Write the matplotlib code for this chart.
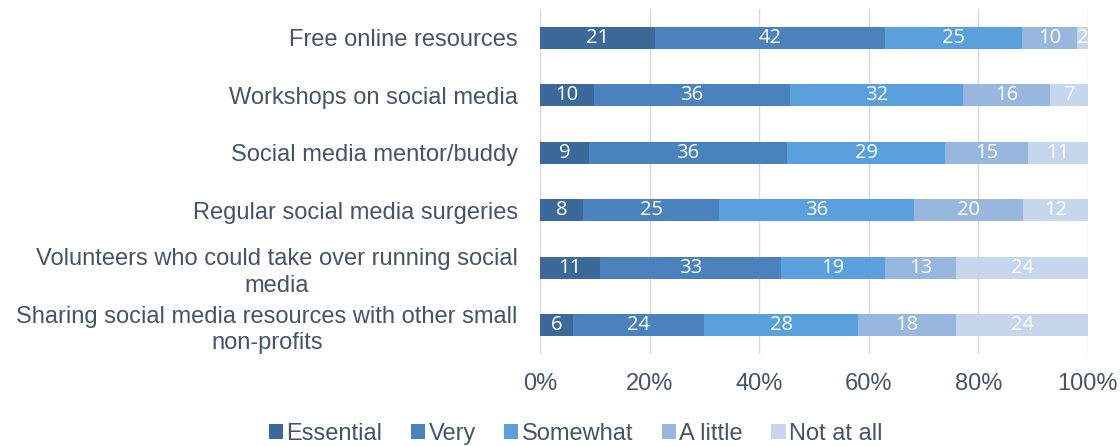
import matplotlib
matplotlib.use("Agg")
import matplotlib.pyplot as plt
import numpy as np

categories = [
    "Free online resources",
    "Workshops on social media",
    "Social media mentor/buddy",
    "Regular social media surgeries",
    "Volunteers who could take over running social\nmedia",
    "Sharing social media resources with other small\nnon-profits",
]
series_names = ["Essential", "Very", "Somewhat", "A little", "Not at all"]
essential = [21, 10, 9, 8, 11, 6]
very = [42, 36, 36, 25, 33, 24]
somewhat = [25, 32, 29, 36, 19, 28]
a_little = [10, 16, 15, 20, 13, 18]
not_at_all = [2, 7, 11, 12, 24, 24]
xtick_labels = ["0%", "20%", "40%", "60%", "80%", "100%"]

colors = ["#3b6a9a", "#4a82be", "#5aa0dc", "#98b7df", "#c6d6ec"]
text_color = "#44546a"

data = np.array([essential, very, somewhat, a_little, not_at_all], dtype=float)
totals = data.sum(axis=0)
frac = data / totals * 100

fig = plt.figure(figsize=(11.2, 4.46), dpi=100)
ax = fig.add_axes([0.4821, 0.2063, 0.4893, 0.7735])

y = np.arange(len(categories))
left = np.zeros(len(categories))
for i, name in enumerate(series_names):
    ax.barh(y, frac[i], left=left, height=0.38, color=colors[i], label=name, zorder=3)
    for j in range(len(categories)):
        ax.text(left[j] + frac[i][j] / 2, y[j], f"{int(data[i][j])}", ha="center", va="center",
                color="white", fontsize=14.5, family="Open Sans", zorder=4)
    left += frac[i]

ax.set_ylim(len(categories) - 0.5, -0.5)
ax.set_xlim(0, 100)
ax.set_yticks(y)
ax.set_yticklabels(categories, fontsize=17, color=text_color, family="Liberation Sans",
                   linespacing=1.27, multialignment="center")
ax.set_xticks(np.linspace(0, 100, 6))
ax.set_xticklabels(xtick_labels, fontsize=17, color=text_color, family="Liberation Sans")
ax.tick_params(axis="both", length=0)
ax.tick_params(axis="y", pad=16)
ax.tick_params(axis="x", pad=14)
for s in ax.spines.values():
    s.set_visible(False)
ax.grid(axis="x", color="#d9d9d9", linewidth=1, zorder=0)
ax.set_axisbelow(True)

leg = fig.legend(loc="lower center", bbox_to_anchor=(0.514, -0.045), ncol=5, frameon=False,
                 prop={"family": "Liberation Sans", "size": 17}, handlelength=0.6, handleheight=0.6,
                 handletextpad=0.15, columnspacing=1.2)
for t in leg.get_texts():
    t.set_color(text_color)

fig.savefig("out.png", dpi=100)
